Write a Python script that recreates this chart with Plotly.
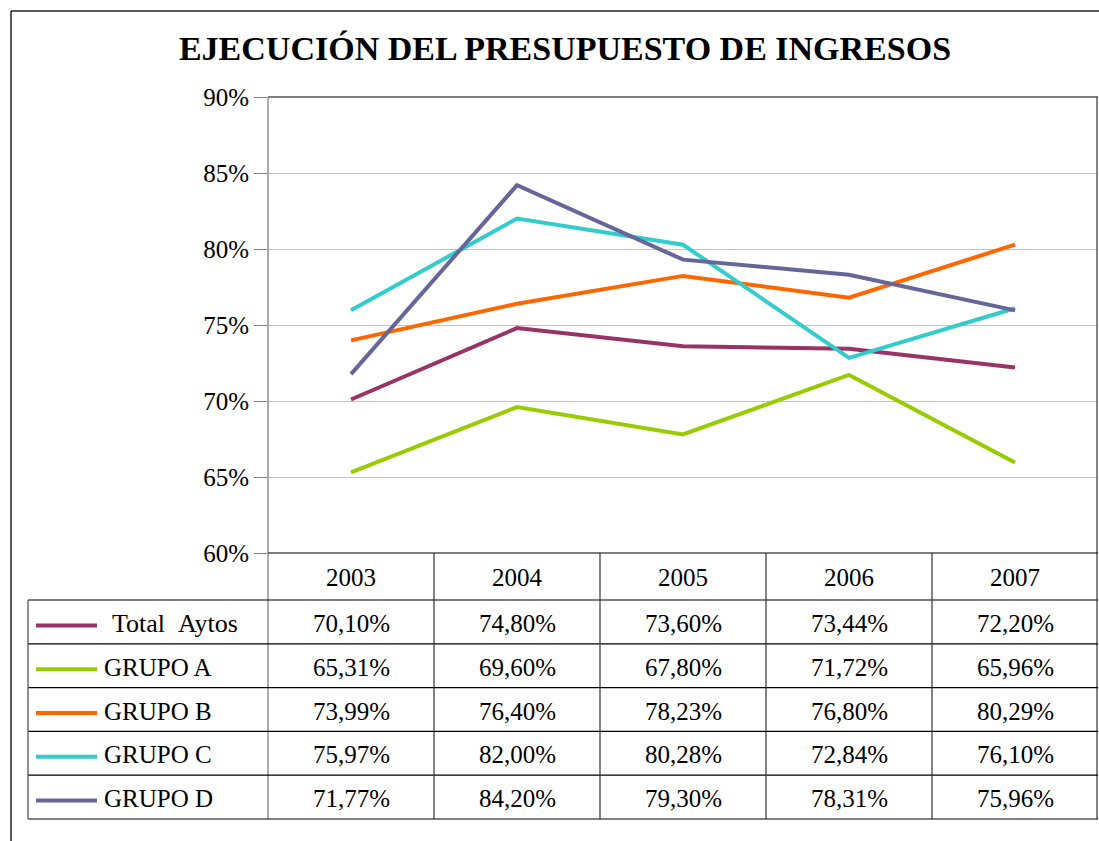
import plotly.graph_objects as go

years = ["2003", "2004", "2005", "2006", "2007"]
series_names = ["Total Aytos", "GRUPO A", "GRUPO B", "GRUPO C", "GRUPO D"]
total_aytos = [70.10, 74.80, 73.60, 73.44, 72.20]
grupo_a = [65.31, 69.60, 67.80, 71.72, 65.96]
grupo_b = [73.99, 76.40, 78.23, 76.80, 80.29]
grupo_c = [75.97, 82.00, 80.28, 72.84, 76.10]
grupo_d = [71.77, 84.20, 79.30, 78.31, 75.96]
y_ticks = [60, 65, 70, 75, 80, 85, 90]

series_values = [total_aytos, grupo_a, grupo_b, grupo_c, grupo_d]
colors = ["#993366", "#99CC00", "#FF6600", "#33CCCC", "#666699"]

W, H = 1099, 841
L, R, T, B = 268, 1098, 97, 553
FONT = "Liberation Serif"


def px_x(p):
    return (p - L) / (R - L)


def px_y(p):
    return (B - p) / (B - T)


fig = go.Figure()
for name, vals, col in zip(series_names, series_values, colors):
    fig.add_trace(go.Scatter(x=list(range(len(years))), y=vals, mode="lines", name=name,
                             line=dict(color=col, width=4), showlegend=False))

shapes = []
annotations = []


def hline(y, x0, x1, color="#000000", width=1.3):
    shapes.append(dict(type="line", xref="paper", yref="paper",
                       x0=px_x(x0), x1=px_x(x1), y0=px_y(y), y1=px_y(y),
                       line=dict(color=color, width=width), layer="above"))


def vline(x, y0, y1, color="#000000", width=1.3):
    shapes.append(dict(type="line", xref="paper", yref="paper",
                       x0=px_x(x), x1=px_x(x), y0=px_y(y0), y1=px_y(y1),
                       line=dict(color=color, width=width), layer="above"))


row_top = 600
row_h = 43.8
n_rows = len(series_names)
tbl_bottom = row_top + n_rows * row_h

# outer chart border
hline(11, 11, 1099, "#222222", 1.5)
vline(11, 11, 841, "#222222", 1.5)
# plot area border
hline(T, L, R, "#000000", 1.2)
vline(1097, T, tbl_bottom, "#444444", 1.3)
vline(L, T, tbl_bottom, "#808080", 1.3)
hline(B, L, R, "#000000", 1.2)

# table
for i in range(n_rows + 1):
    hline(row_top + i * row_h, 28, R, "#000000", 1.2)
vline(28, row_top, tbl_bottom, "#555555", 1.3)
col_w = (R - L) / len(years)
for j in range(1, len(years)):
    vline(L + j * col_w, B, tbl_bottom, "#333333", 1.2)

# header years
for j, yr in enumerate(years):
    annotations.append(dict(x=j, xref="x", y=px_y(577), yref="paper",
                            text=yr, showarrow=False, xanchor="center", yanchor="middle",
                            font=dict(family=FONT, size=25, color="#000000")))

for i, (name, vals, col) in enumerate(zip(series_names, series_values, colors)):
    cy = row_top + i * row_h + row_h / 2 + 1.5
    shapes.append(dict(type="line", xref="paper", yref="paper",
                       x0=px_x(36), x1=px_x(97), y0=px_y(cy + 2), y1=px_y(cy + 2),
                       line=dict(color=col, width=4), layer="above"))
    label = name.replace(" ", "\u00a0\u00a0") if i == 0 else name
    annotations.append(dict(x=px_x(110 if i == 0 else 102), xref="paper", y=px_y(cy), yref="paper",
                            text=label, showarrow=False, xanchor="left", yanchor="middle",
                            font=dict(family=FONT, size=26 if i == 0 else 25, color="#000000")))
    for j, v in enumerate(vals):
        txt = f"{v:.2f}".replace(".", ",") + "%"
        annotations.append(dict(x=j, xref="x", y=px_y(cy), yref="paper",
                                text=txt, showarrow=False, xanchor="center", yanchor="middle",
                                font=dict(family=FONT, size=25, color="#000000")))

fig.update_layout(
    width=W, height=H,
    margin=dict(l=L, r=W - R, t=T, b=H - B, pad=0),
    paper_bgcolor="white", plot_bgcolor="white",
    title=dict(text="<b>EJECUCIÓN DEL PRESUPUESTO DE INGRESOS</b>",
               x=565 / W, xanchor="center", y=1 - 48 / H, yanchor="middle",
               font=dict(family=FONT, size=34, color="#000000")),
    xaxis=dict(range=[-0.5, 4.5], showticklabels=False,
               showgrid=False, zeroline=False, showline=False, ticks=""),
    yaxis=dict(range=[60, 90], tickvals=y_ticks, ticktext=[f"{t}%" for t in y_ticks],
               showgrid=True, gridcolor="#A6CAF0", gridwidth=1, zeroline=False,
               showline=False, ticks="outside", ticklen=13, tickcolor="#808080",
               tickwidth=1.2, tickfont=dict(family=FONT, size=25, color="#000000")),
    shapes=shapes, annotations=annotations,
)

fig.write_html("out.html", config={"displayModeBar": False},
               post_script="document.body.style.margin='0';document.body.style.overflow='hidden';")
